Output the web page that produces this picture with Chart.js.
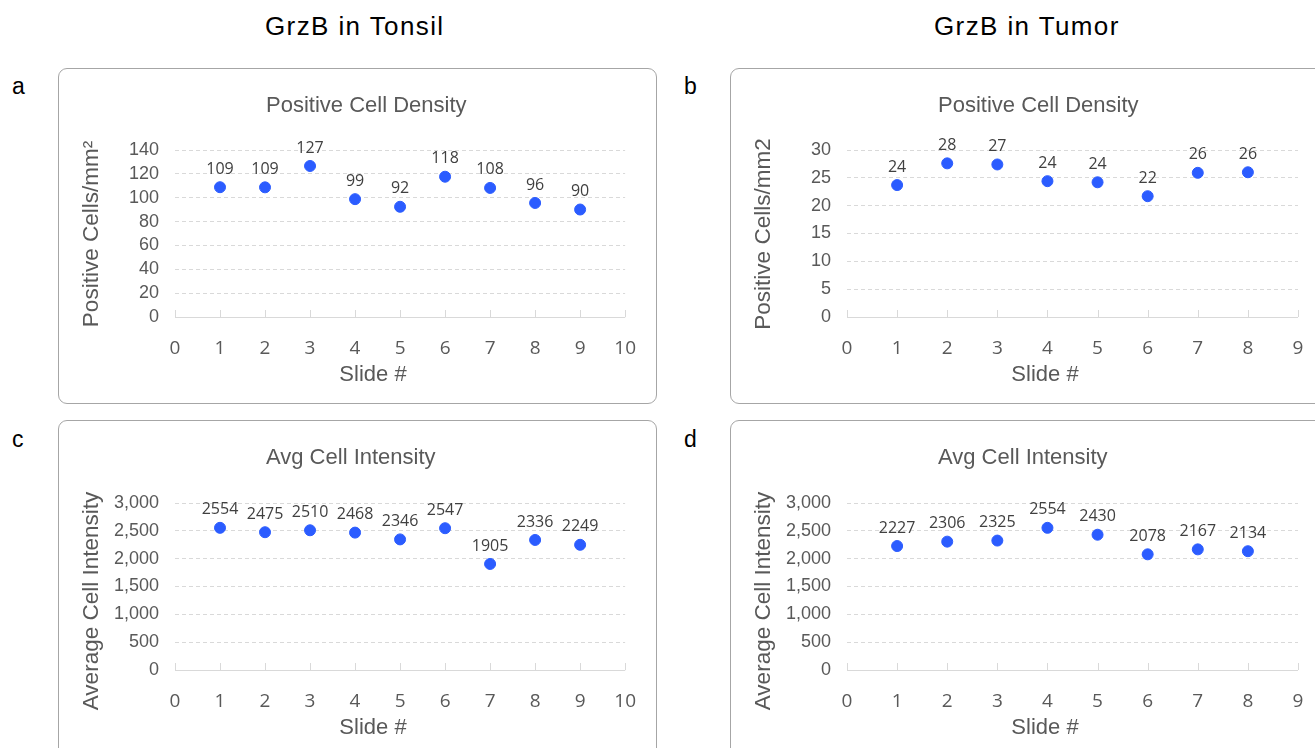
<!DOCTYPE html>
<html>
<head>
<meta charset="utf-8">
<script src="https://cdn.jsdelivr.net/npm/chart.js@4.4.0/dist/chart.umd.min.js"></script>
<style>
  body { margin: 0; width: 1315px; height: 748px; overflow: hidden; background: #fff; font-family: "Liberation Sans", Arial, sans-serif; position: relative; }
  .head { position: absolute; top: 11px; font-size: 26px; letter-spacing: 1.4px; color: #000; }
  .letter { position: absolute; font-size: 23px; color: #000; }
  .box { position: absolute; border: 1px solid #a6a6a6; border-radius: 9px; background: #fff; overflow: hidden; }
  .box canvas { display: block; }
</style>
</head>
<body>
<div class="head" style="left:265px">GrzB in Tonsil</div>
<div class="head" style="left:934px">GrzB in Tumor</div>
<div class="letter" style="left:12px;top:73px">a</div>
<div class="letter" style="left:684px;top:73px">b</div>
<div class="letter" style="left:12px;top:426px">c</div>
<div class="letter" style="left:684px;top:426px">d</div>

<div class="box" style="left:58px;top:68px;width:597px;height:334px"><canvas id="chartA" width="597" height="334"></canvas></div>
<div class="box" style="left:730px;top:68px;width:600px;height:334px"><canvas id="chartB" width="600" height="334"></canvas></div>
<div class="box" style="left:58px;top:420px;width:597px;height:340px"><canvas id="chartC" width="597" height="335"></canvas></div>
<div class="box" style="left:730px;top:420px;width:600px;height:340px"><canvas id="chartD" width="600" height="335"></canvas></div>

<script>
// slide numbers
const tonsilSlides = [1, 2, 3, 4, 5, 6, 7, 8, 9];
const tumorSlides = [1, 2, 3, 4, 5, 6, 7, 8];

// positive cell density
const tonsilDensity = [108.8, 108.7, 126.6, 98.8, 92.4, 117.6, 108.2, 95.6, 90.1];
const tumorDensity = [23.7, 27.6, 27.4, 24.4, 24.2, 21.7, 25.9, 26.0];

// average cell intensity
const tonsilIntensity = [2554, 2475, 2510, 2468, 2346, 2547, 1905, 2336, 2249];
const tumorIntensity = [2227, 2306, 2325, 2554, 2430, 2078, 2167, 2134];

const gray = '#595959';
const blue = '#2b5cff';

// value labels above points + small tick marks on the x axis
const labelPlugin = {
    id: 'labels',
    afterDatasetsDraw(chart) {
        const ctx = chart.ctx;
        const meta = chart.getDatasetMeta(0);
        const data = chart.data.datasets[0].data;
        ctx.save();
        ctx.font = '16px "Open Sans", "DejaVu Sans", sans-serif';
        ctx.fillStyle = '#404040';
        ctx.textAlign = 'center';
        ctx.textBaseline = 'middle';
        meta.data.forEach((pt, i) => {
            ctx.fillText(String(Math.round(data[i].y)), pt.x, pt.y - 18);
        });
        ctx.restore();
    },
    beforeDatasetsDraw(chart) {
        const ctx = chart.ctx;
        const xs = chart.scales.x;
        const y0 = chart.scales.y.getPixelForValue(0);
        ctx.save();
        ctx.strokeStyle = '#d9d9d9';
        ctx.lineWidth = 1;
        ctx.beginPath();
        xs.ticks.forEach(t => {
            const px = Math.round(xs.getPixelForValue(t.value)) + 0.5;
            ctx.moveTo(px, y0);
            ctx.lineTo(px, y0 - 7);
        });
        ctx.moveTo(xs.left, Math.round(y0) + 0.5);
        ctx.lineTo(xs.right, Math.round(y0) + 0.5);
        ctx.stroke();
        ctx.restore();
    }
};

// chart title, axis titles placed like the original sheet
function captions(title, yTitle, yTitleY) {
    return {
        id: 'captions',
        afterDraw(chart) {
            const ctx = chart.ctx;
            ctx.save();
            ctx.fillStyle = gray;
            ctx.textBaseline = 'middle';
            ctx.font = '22px "Liberation Sans", Arial, sans-serif';
            ctx.textAlign = 'left';
            ctx.fillText(title, 207, 37);
            ctx.textAlign = 'center';
            ctx.fillText('Slide #', 314, chart.height - 28);
            ctx.translate(33, yTitleY);
            ctx.rotate(-Math.PI / 2);
            ctx.font = '22.5px "Liberation Sans", Arial, sans-serif';
            ctx.fillText(yTitle, 0, 0);
            ctx.restore();
        }
    };
}

function makeChart(id, title, yTitle, yTitleY, topPad, xs, ys, xMax, yMax, yStep, rightPad, comma) {
    return new Chart(document.getElementById(id), {
        type: 'scatter',
        data: {
            datasets: [{
                data: xs.map((x, i) => ({x: x, y: ys[i]})),
                backgroundColor: blue,
                borderColor: blue,
                pointRadius: 5.5,
                pointHoverRadius: 5.5
            }]
        },
        options: {
            responsive: false,
            animation: false,
            layout: { padding: { left: 0, right: rightPad, top: topPad, bottom: 0 } },
            plugins: {
                legend: { display: false },
                tooltip: { enabled: false },
                title: { display: false }
            },
            scales: {
                x: {
                    type: 'linear',
                    min: 0, max: xMax,
                    afterFit: s => { s.height = 86; },
                    border: { display: false },
                    grid: { display: false, drawTicks: false },
                    ticks: {
                        stepSize: 1,
                        autoSkip: false,
                        padding: 20,
                        color: gray,
                        font: { family: '"Open Sans", "DejaVu Sans"', size: 19 }
                    }
                },
                y: {
                    min: 0, max: yMax,
                    afterFit: s => { s.width = 116; },
                    border: { display: false, dash: [4, 3] },
                    grid: {
                        color: '#d9d9d9',
                        drawTicks: false
                    },
                    ticks: {
                        stepSize: yStep,
                        autoSkip: false,
                        padding: 16,
                        color: gray,
                        font: { family: '"Liberation Sans", Arial', size: 18 },
                        callback: v => comma ? v.toLocaleString('en-US') : v
                    }
                }
            }
        },
        plugins: [labelPlugin, captions(title, yTitle, yTitleY)]
    });
}

makeChart('chartA', 'Positive Cell Density', 'Positive Cells/mm\u00B2', 165, 81, tonsilSlides, tonsilDensity, 10, 140, 20, 25, false);
makeChart('chartB', 'Positive Cell Density', 'Positive Cells/mm2', 165, 81, tumorSlides, tumorDensity, 9, 30, 5, 33, false);
makeChart('chartC', 'Avg Cell Intensity', 'Average Cell Intensity', 180, 82, tonsilSlides, tonsilIntensity, 10, 3000, 500, 25, true);
makeChart('chartD', 'Avg Cell Intensity', 'Average Cell Intensity', 180, 82, tumorSlides, tumorIntensity, 9, 3000, 500, 33, true);
</script>
</body>
</html>
